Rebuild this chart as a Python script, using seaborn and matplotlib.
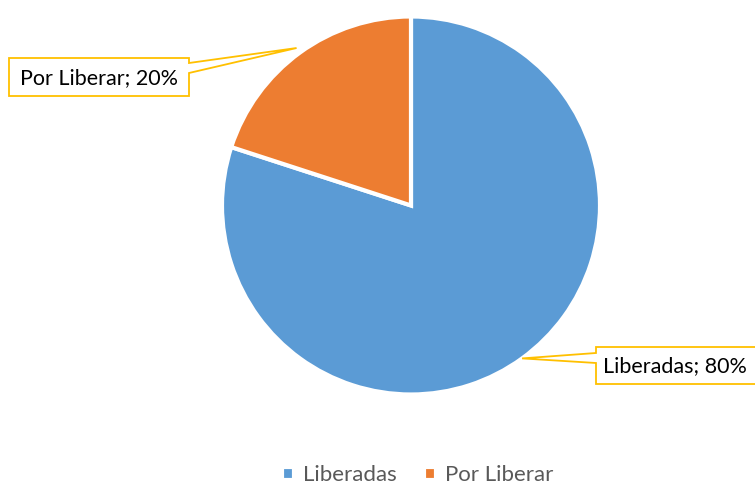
import numpy as np
import matplotlib
matplotlib.use("Agg")
import matplotlib.pyplot as plt
from matplotlib.patches import Polygon
import seaborn as sns

categories = ["Liberadas", "Por Liberar"]
values = [80, 20]
label_texts = ["Liberadas; 80%", "Por Liberar; 20%"]
colors = ["#5B9BD5", "#ED7D31"]

sns.set_theme(style="white")
plt.rcParams['font.family'] = ['Lato', 'DejaVu Sans']

W, H = 755, 486
fig = plt.figure(figsize=(W / 100, H / 100), dpi=100)
ax = fig.add_axes([0, 0, 1, 1])

cx, cy, R = 411, H - 205.5, 189
explode = [0, 0.03]
wedges, _ = ax.pie(values, startangle=90, counterclock=False, colors=sns.color_palette(colors),
                   center=(cx, cy), radius=R, explode=explode,
                   wedgeprops=dict(edgecolor="white", linewidth=3), frame=True)
ax.set_xlim(0, W)
ax.set_ylim(0, H)
ax.set_aspect("equal")
ax.axis("off")

gold = "#FFC000"
# callout boxes (layout positions, y measured from top)
boxes = [
    dict(x0=596, x1=760, y0=347, y1=384, side="left"),   # Liberadas
    dict(x0=9, x1=189, y0=58, y1=96, side="right"),      # Por Liberar
]
total = sum(values)
start = 90.0
for i, (v, b) in enumerate(zip(values, boxes)):
    sweep = 360.0 * v / total
    mid = np.deg2rad(start - sweep / 2)
    start -= sweep
    off = explode[i] * R
    tx = cx + (R + off) * np.cos(mid)
    ty = cy + (R + off) * np.sin(mid)
    x0, x1 = b["x0"], b["x1"]
    y0, y1 = H - b["y0"], H - b["y1"]
    if b["side"] == "right":
        pts = [(x0, y0), (x1, y0), (x1, y0 - 5), (tx, ty), (x1, y0 - 15), (x1, y1), (x0, y1)]
        tx_text = (x0 + x1) / 2
    else:
        pts = [(x0, y0), (x1, y0), (x1, y1), (x0, y1), (x0, y1 + 21), (tx, ty), (x0, y0 - 6)]
        tx_text = x0 + 7
    ax.add_patch(Polygon(pts, closed=True, facecolor="white", edgecolor=gold, linewidth=1.3, zorder=5))
    ax.text(tx_text, (y0 + y1) / 2 - 1, label_texts[i], ha="center" if b["side"] == "right" else "left",
            va="center", fontsize=15.5, color="black", zorder=6)

leg = ax.legend(wedges, categories, loc="lower center", bbox_to_anchor=(0.553, -0.04), ncol=2,
                frameon=False, fontsize=16, handlelength=0.55, handleheight=0.55,
                columnspacing=1.2, handletextpad=0.4)
for t in leg.get_texts():
    t.set_color("#595959")

fig.savefig("out.png", dpi=100)
